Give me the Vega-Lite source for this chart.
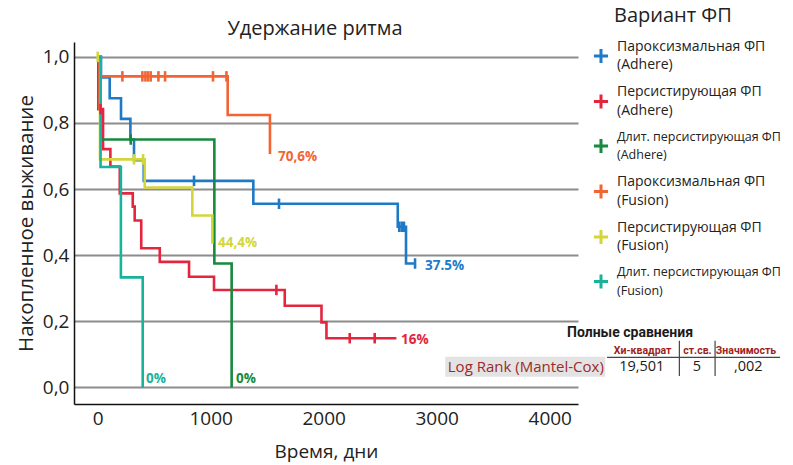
{
  "$schema": "https://vega.github.io/schema/vega-lite/v6.json",
  "width": 504,
  "height": 362,
  "autosize": {"type": "none"},
  "padding": {"left": 74, "top": 42, "right": 215, "bottom": 61},
  "background": "white",
  "config": {"view": {"stroke": null}, "font": "Open Sans"},
  "title": {"text": "Удержание ритма", "fontSize": 20, "fontWeight": "normal", "color": "#222", "dx": -11, "offset": -33, "font": "Open Sans"},
  "datasets": {
    "curves": [
      {"g": "Пароксизмальная ФП|(Adhere)", "t": 0, "v": 1},
      {"g": "Пароксизмальная ФП|(Adhere)", "t": 29, "v": 0.9375},
      {"g": "Пароксизмальная ФП|(Adhere)", "t": 106, "v": 0.875},
      {"g": "Пароксизмальная ФП|(Adhere)", "t": 206, "v": 0.8125},
      {"g": "Пароксизмальная ФП|(Adhere)", "t": 289, "v": 0.75},
      {"g": "Пароксизмальная ФП|(Adhere)", "t": 321, "v": 0.6875},
      {"g": "Пароксизмальная ФП|(Adhere)", "t": 407, "v": 0.625},
      {"g": "Пароксизмальная ФП|(Adhere)", "t": 1377, "v": 0.5556},
      {"g": "Пароксизмальная ФП|(Adhere)", "t": 2655, "v": 0.4861},
      {"g": "Пароксизмальная ФП|(Adhere)", "t": 2728, "v": 0.375},
      {"g": "Пароксизмальная ФП|(Adhere)", "t": 2808, "v": 0.375},
      {"g": "Персистирующая ФП|(Adhere)", "t": 0, "v": 1},
      {"g": "Персистирующая ФП|(Adhere)", "t": 5, "v": 0.842},
      {"g": "Персистирующая ФП|(Adhere)", "t": 47, "v": 0.721},
      {"g": "Персистирующая ФП|(Adhere)", "t": 112, "v": 0.668},
      {"g": "Персистирующая ФП|(Adhere)", "t": 195, "v": 0.587},
      {"g": "Персистирующая ФП|(Adhere)", "t": 310, "v": 0.547},
      {"g": "Персистирующая ФП|(Adhere)", "t": 327, "v": 0.505},
      {"g": "Персистирующая ФП|(Adhere)", "t": 385, "v": 0.421},
      {"g": "Персистирующая ФП|(Adhere)", "t": 549, "v": 0.38},
      {"g": "Персистирующая ФП|(Adhere)", "t": 808, "v": 0.335},
      {"g": "Персистирующая ФП|(Adhere)", "t": 1029, "v": 0.295},
      {"g": "Персистирующая ФП|(Adhere)", "t": 1655, "v": 0.247},
      {"g": "Персистирующая ФП|(Adhere)", "t": 1980, "v": 0.197},
      {"g": "Персистирующая ФП|(Adhere)", "t": 2024, "v": 0.149},
      {"g": "Персистирующая ФП|(Adhere)", "t": 2643, "v": 0.149},
      {"g": "Длит. персистирующая ФП|(Adhere)", "t": 0, "v": 1},
      {"g": "Длит. персистирующая ФП|(Adhere)", "t": 25, "v": 0.75},
      {"g": "Длит. персистирующая ФП|(Adhere)", "t": 1032, "v": 0.375},
      {"g": "Длит. персистирующая ФП|(Adhere)", "t": 1185, "v": 0},
      {"g": "Пароксизмальная ФП|(Fusion)", "t": 0, "v": 1},
      {"g": "Пароксизмальная ФП|(Fusion)", "t": 25, "v": 0.941},
      {"g": "Пароксизмальная ФП|(Fusion)", "t": 1150, "v": 0.824},
      {"g": "Пароксизмальная ФП|(Fusion)", "t": 1524, "v": 0.706},
      {"g": "Персистирующая ФП|(Fusion)", "t": 0, "v": 1},
      {"g": "Персистирующая ФП|(Fusion)", "t": 20, "v": 0.69},
      {"g": "Персистирующая ФП|(Fusion)", "t": 416, "v": 0.605},
      {"g": "Персистирующая ФП|(Fusion)", "t": 837, "v": 0.52},
      {"g": "Персистирующая ФП|(Fusion)", "t": 1014, "v": 0.435},
      {"g": "Длит. персистирующая ФП|(Fusion)", "t": 0, "v": 1},
      {"g": "Длит. персистирующая ФП|(Fusion)", "t": 25, "v": 0.667},
      {"g": "Длит. персистирующая ФП|(Fusion)", "t": 205, "v": 0.333},
      {"g": "Длит. персистирующая ФП|(Fusion)", "t": 398, "v": 0}
    ],
    "cens": [
      {"g": "Пароксизмальная ФП|(Adhere)", "t": 852, "v": 0.625},
      {"g": "Пароксизмальная ФП|(Adhere)", "t": 1604, "v": 0.5556},
      {"g": "Пароксизмальная ФП|(Adhere)", "t": 2668, "v": 0.4861},
      {"g": "Пароксизмальная ФП|(Adhere)", "t": 2690, "v": 0.4861},
      {"g": "Пароксизмальная ФП|(Adhere)", "t": 2710, "v": 0.4861},
      {"g": "Пароксизмальная ФП|(Adhere)", "t": 2808, "v": 0.375},
      {"g": "Персистирующая ФП|(Adhere)", "t": 25, "v": 0.842},
      {"g": "Персистирующая ФП|(Adhere)", "t": 1581, "v": 0.295},
      {"g": "Персистирующая ФП|(Adhere)", "t": 2230, "v": 0.149},
      {"g": "Персистирующая ФП|(Adhere)", "t": 2451, "v": 0.149},
      {"g": "Длит. персистирующая ФП|(Adhere)", "t": 292, "v": 0.75},
      {"g": "Пароксизмальная ФП|(Fusion)", "t": 218, "v": 0.941},
      {"g": "Пароксизмальная ФП|(Fusion)", "t": 395, "v": 0.941},
      {"g": "Пароксизмальная ФП|(Fusion)", "t": 422, "v": 0.941},
      {"g": "Пароксизмальная ФП|(Fusion)", "t": 445, "v": 0.941},
      {"g": "Пароксизмальная ФП|(Fusion)", "t": 469, "v": 0.941},
      {"g": "Пароксизмальная ФП|(Fusion)", "t": 537, "v": 0.941},
      {"g": "Пароксизмальная ФП|(Fusion)", "t": 596, "v": 0.941},
      {"g": "Пароксизмальная ФП|(Fusion)", "t": 1020, "v": 0.941},
      {"g": "Пароксизмальная ФП|(Fusion)", "t": 1139, "v": 0.941},
      {"g": "Персистирующая ФП|(Fusion)", "t": 0, "v": 1},
      {"g": "Персистирующая ФП|(Fusion)", "t": 321, "v": 0.69},
      {"g": "Персистирующая ФП|(Fusion)", "t": 401, "v": 0.69}
    ],
    "lbl": [
      {"g": "Пароксизмальная ФП|(Fusion)", "t": 1595, "v": 0.697, "txt": "70,6%"},
      {"g": "Пароксизмальная ФП|(Adhere)", "t": 2896, "v": 0.3675, "txt": "37.5%"},
      {"g": "Персистирующая ФП|(Fusion)", "t": 1064, "v": 0.437, "txt": "44,4%"},
      {"g": "Персистирующая ФП|(Adhere)", "t": 2684, "v": 0.143, "txt": "16%"},
      {"g": "Длит. персистирующая ФП|(Fusion)", "t": 427, "v": 0.026, "txt": "0%"},
      {"g": "Длит. персистирующая ФП|(Adhere)", "t": 1224, "v": 0.026, "txt": "0%"}
    ]
  },
  "layer": [
    {
      "data": {"name": "curves"},
      "mark": {"type": "line", "interpolate": "step-after", "strokeWidth": 2.6},
      "encoding": {
        "x": {"field": "t", "type": "quantitative", "scale": {"domain": [-210, 4250], "nice": false, "zero": false},
          "axis": {"title": "Время, дни", "values": [0, 1000, 2000, 3000, 4000], "format": "d", "grid": false, "ticks": false, "domainColor": "#111", "domainWidth": 1.5, "labelFontSize": 19, "labelColor": "#222", "labelPadding": 5, "labelFlush": false, "titleFontSize": 19, "titleFontWeight": "normal", "titleColor": "#222", "titlePadding": 14}},
        "y": {"field": "v", "type": "quantitative", "scale": {"domain": [-0.05, 1.045], "nice": false, "zero": false},
          "axis": {"title": "Накопленное выживание", "values": [0, 0.2, 0.4, 0.6, 0.8, 1.0], "labelExpr": "replace(format(datum.value,'.1f'),'.',',')", "grid": true, "gridColor": "#8c8c8c", "gridWidth": 2, "ticks": false, "domainColor": "#111", "domainWidth": 1.5, "labelFontSize": 19, "labelColor": "#222", "labelPadding": 5, "titleFontSize": 20.5, "titleFontWeight": "normal", "titleColor": "#222", "titleX": -38, "titleY": 181}},
        "color": {"field": "g", "type": "nominal",
          "scale": {"domain": ["Пароксизмальная ФП|(Adhere)", "Персистирующая ФП|(Adhere)", "Длит. персистирующая ФП|(Adhere)", "Пароксизмальная ФП|(Fusion)", "Персистирующая ФП|(Fusion)", "Длит. персистирующая ФП|(Fusion)"],
                    "range": ["#1f7ac6", "#e3263e", "#168a3e", "#f26433", "#d3d63a", "#19b39c"]},
          "legend": {"title": "Вариант ФП", "orient": "none", "legendX": 518, "legendY": -36,
            "symbolType": "M-1,0H1M0,-1V1", "symbolSize": 200, "symbolStrokeWidth": 3,
            "labelExpr": "split(datum.label,'|')", "labelFontSize": 14, "labelColor": "#222", "labelOffset": 7, "labelLimit": 300, "labelBaseline": "middle",
            "titleFontSize": 20, "titleFontWeight": "normal", "titleColor": "#222", "titlePadding": 21, "rowPadding": 12.5,
            "encode": {
              "title": {"update": {"dx": {"value": 22}}},
              "labels": {"update": {"lineHeight": {"value": 18.5}, "dy": {"value": -9.5}, "fontSize": [{"test": "indexof(datum.value,'Длит')===0", "value": 12.5}, {"value": 14}]}}}}}
      }
    },
    {
      "data": {"name": "cens"},
      "mark": {"type": "point", "shape": "M0,-1V1", "filled": false, "size": 110, "strokeWidth": 2.6, "opacity": 1},
      "encoding": {
        "x": {"field": "t", "type": "quantitative"},
        "y": {"field": "v", "type": "quantitative"},
        "color": {"field": "g", "type": "nominal"}
      }
    },
    {
      "data": {"name": "lbl"},
      "mark": {"type": "text", "align": "left", "baseline": "middle", "fontWeight": "bold", "fontSize": 13.5},
      "encoding": {
        "x": {"field": "t", "type": "quantitative"},
        "y": {"field": "v", "type": "quantitative"},
        "text": {"field": "txt"},
        "color": {"field": "g", "type": "nominal"}
      }
    },
    {
      "data": {"values": [{"t": 3075, "t2": 4491, "v": 0.0932, "v2": 0.0328}]},
      "mark": {"type": "rect", "color": "#e3e3e3"},
      "encoding": {
        "x": {"field": "t", "type": "quantitative"}, "x2": {"field": "t2"},
        "y": {"field": "v", "type": "quantitative"}, "y2": {"field": "v2"}
      }
    },
    {
      "data": {"values": [
        {"t": 5147, "t2": 5147, "v": 0.1416, "v2": 0.0348},
        {"t": 5463, "t2": 5463, "v": 0.1416, "v2": 0.0348},
        {"t": 4507, "t2": 6038, "v": 0.0913, "v2": 0.0913}
      ]},
      "mark": {"type": "rule", "color": "#444", "strokeWidth": 1.2},
      "encoding": {
        "x": {"field": "t", "type": "quantitative"}, "x2": {"field": "t2"},
        "y": {"field": "v", "type": "quantitative"}, "y2": {"field": "v2"}
      }
    },
    {
      "data": {"values": [{"t": 4153, "v": 0.166, "txt": "Полные сравнения"}]},
      "mark": {"type": "text", "align": "left", "baseline": "middle", "fontWeight": "bold", "fontSize": 14, "font": "Roboto", "color": "#1a1a1a"},
      "encoding": {"x": {"field": "t", "type": "quantitative"}, "y": {"field": "v", "type": "quantitative"}, "text": {"field": "txt"}}
    },
    {
      "data": {"values": [
        {"t": 4822, "v": 0.11, "txt": "Хи-квадрат"},
        {"t": 5307, "v": 0.11, "txt": "ст.св."},
        {"t": 5737, "v": 0.11, "txt": "Значимость"}
      ]},
      "mark": {"type": "text", "align": "center", "baseline": "middle", "fontWeight": "bold", "fontSize": 10.5, "font": "Roboto", "color": "#9e1f1f"},
      "encoding": {"x": {"field": "t", "type": "quantitative"}, "y": {"field": "v", "type": "quantitative"}, "text": {"field": "txt"}}
    },
    {
      "data": {"values": [
        {"t": 4814, "v": 0.0605, "txt": "19,501"},
        {"t": 5301, "v": 0.0605, "txt": "5"},
        {"t": 5757, "v": 0.0605, "txt": ",002"}
      ]},
      "mark": {"type": "text", "align": "center", "baseline": "middle", "fontSize": 14.5, "color": "#1a1a1a"},
      "encoding": {"x": {"field": "t", "type": "quantitative"}, "y": {"field": "v", "type": "quantitative"}, "text": {"field": "txt"}}
    },
    {
      "data": {"values": [{"t": 3788, "v": 0.0605, "txt": "Log Rank (Mantel-Cox)"}]},
      "mark": {"type": "text", "align": "center", "baseline": "middle", "fontSize": 15, "color": "#9b2a2a"},
      "encoding": {"x": {"field": "t", "type": "quantitative"}, "y": {"field": "v", "type": "quantitative"}, "text": {"field": "txt"}}
    }
  ]
}
